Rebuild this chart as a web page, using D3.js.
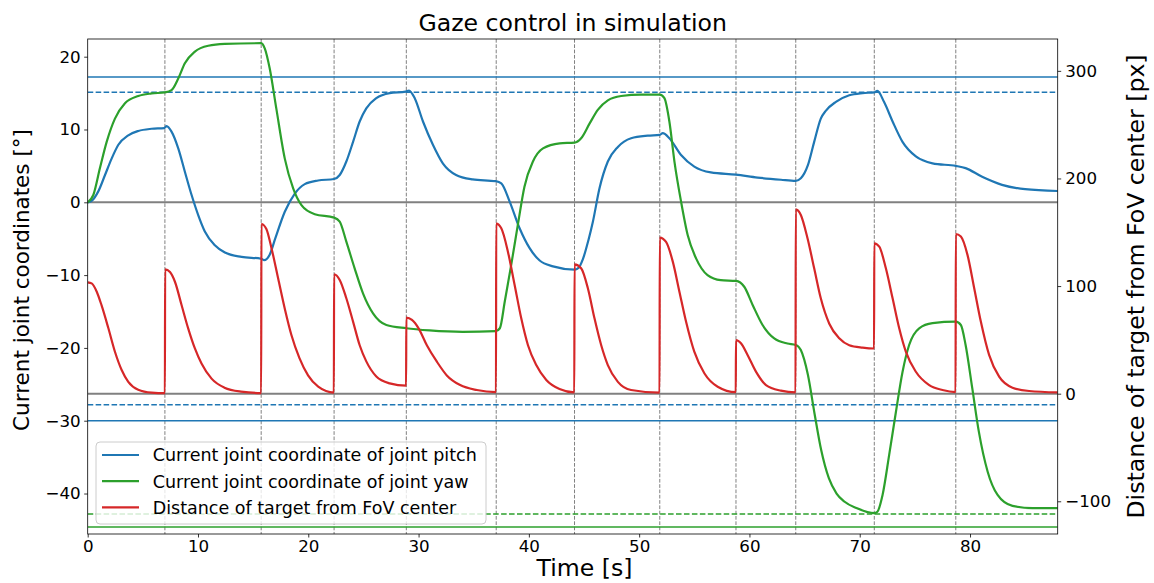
<!DOCTYPE html>
<html>
<head>
<meta charset="utf-8">
<script src="https://cdn.jsdelivr.net/npm/d3@7"></script>
<style>
  body { margin: 0; background: #fff; }
  svg text { font-family: "DejaVu Sans", sans-serif; fill: #000; }
</style>
</head>
<body>
<div id="vis"></div>
<script>
// values
const xTicks = [0, 10, 20, 30, 40, 50, 60, 70, 80];
const leftTicks = [-40, -30, -20, -10, 0, 10, 20];
const rightTicks = [-100, 0, 100, 200, 300];

// times where a new target shows up (vertical dashed lines)
const targetTimes = [7.0, 15.73, 22.34, 28.89, 37.04, 44.14, 51.87, 58.78, 64.2, 71.32, 78.71];

// joint limits [deg]
const pitchLimits = [17.2, -30.0];
const pitchSoftLimits = [15.1, -27.8];
const yawLimits = [-44.6];
const yawSoftLimits = [-42.8];

// [time s, pitch deg]
const pitchPoints = [[0,0],[0.36,0.2],[0.96,1.5],[1.57,3.75],[2.17,6.0],[2.78,7.9],[3.68,9.2],[4.59,9.8],[5.8,10.1],[6.94,10.2],[7.15,10.45],[7.6,9.7],[8.21,7.4],[8.81,4.2],[9.42,1.0],[10.02,-1.75],[10.62,-4.0],[11.53,-5.9],[12.44,-6.9],[13.95,-7.5],[15.73,-7.75],[16.0,-7.95],[16.5,-7.2],[17.0,-5.0],[17.87,-1.3],[18.78,1.2],[19.68,2.5],[20.89,3.0],[22.34,3.2],[22.85,3.75],[23.45,5.6],[24.06,8.3],[24.66,11.1],[25.26,12.9],[26.17,14.3],[27.38,15.0],[28.83,15.2],[29.13,15.35],[29.65,14.3],[30.4,11.1],[31.3,7.9],[32.2,5.35],[33.4,3.75],[34.9,3.15],[37.0,2.9],[37.5,2.6],[38.26,0.1],[39.17,-3.6],[40.07,-6.3],[40.98,-8.0],[42.19,-8.8],[44.14,-9.25],[44.5,-9.0],[44.9,-7.8],[45.4,-5.2],[45.8,-2.7],[46.4,1.9],[47.16,5.6],[48.07,7.6],[49.27,8.8],[50.78,9.15],[51.87,9.25],[52.14,9.5],[52.74,8.8],[53.8,6.5],[55.0,4.9],[56.5,4.1],[58.78,3.8],[60.74,3.4],[62.86,3.1],[64.2,2.95],[64.66,3.3],[65.3,5.1],[65.87,8.3],[66.47,11.5],[66.94,12.6],[67.84,13.8],[69.05,14.7],[70.26,15.0],[71.32,15.1],[71.6,15.3],[72.2,13.8],[72.98,11.1],[73.88,8.3],[75.09,6.3],[76.6,5.35],[78.71,5.0],[79.6,4.7],[81.1,3.5],[82.9,2.4],[85.0,1.8],[87.95,1.55]];

// [time s, yaw deg]
const yawPoints = [[0,0],[0.51,1.0],[1.11,4.7],[1.72,8.3],[2.47,11.5],[3.38,13.6],[4.59,14.6],[5.8,14.95],[7.0,15.1],[7.6,15.4],[8.21,17.0],[8.81,19.1],[9.72,20.7],[10.93,21.5],[12.43,21.75],[15.73,21.85],[16.06,21.1],[16.5,18.4],[17.1,12.9],[17.87,6.0],[18.63,1.9],[19.38,-0.4],[20.59,-1.65],[22.34,-2.1],[22.85,-2.65],[23.45,-5.4],[24.21,-9.1],[24.96,-12.5],[25.87,-15.25],[27.08,-16.85],[28.89,-17.3],[31.0,-17.6],[34.0,-17.8],[37.0,-17.7],[37.37,-17.3],[37.82,-13.6],[38.4,-8.6],[39.0,-3.1],[39.6,2.15],[40.37,5.6],[41.28,7.4],[42.79,8.1],[44.14,8.2],[44.74,8.8],[45.5,10.8],[46.25,12.7],[47.16,14.0],[48.37,14.6],[50.18,14.8],[51.87,14.8],[52.29,14.3],[52.74,11.1],[53.2,5.6],[53.8,0.1],[54.4,-4.5],[55.16,-7.7],[56.2,-10.0],[57.4,-10.7],[58.78,-10.8],[59.53,-11.6],[60.29,-14.1],[61.19,-16.85],[62.25,-18.7],[63.45,-19.4],[64.2,-19.6],[64.66,-20.3],[65.3,-23.7],[65.9,-29.0],[66.5,-34.0],[67.2,-37.9],[67.9,-40.0],[68.6,-41.1],[69.7,-42.0],[71.32,-42.7],[71.6,-42.5],[72.07,-40.2],[72.67,-34.7],[73.28,-28.8],[73.88,-23.3],[74.48,-19.6],[75.39,-17.3],[76.6,-16.6],[78.71,-16.4],[79.17,-16.85],[79.6,-19.6],[80.2,-25.5],[80.8,-31.5],[81.6,-37.0],[82.5,-40.2],[83.85,-41.7],[85.66,-42.0],[87.95,-42.0]];

// [time s, distance px]
const distPoints = [[0,103.5],[0.36,102.5],[0.81,95],[1.26,82],[1.87,61],[2.47,39],[3.08,22],[3.68,11],[4.58,3.7],[5.8,1.0],[7.0,0.5],
  [7.02,115.6],[7.46,113],[7.91,104],[8.51,82.4],[9.11,60.7],[9.72,42],[10.32,28],[11.23,14],[12.4,5.6],[13.9,1.9],[15.73,0.6],
  [15.75,157.7],[16.2,153],[16.67,135],[17.27,107],[17.87,79],[18.47,54.5],[19.2,33],[19.98,17],[20.9,6.5],[22.32,1],
  [22.34,111],[22.85,105.7],[23.45,88.7],[24.06,67],[24.66,45],[25.26,30],[26.17,16],[27.38,9.6],[28.87,7.4],
  [28.89,70.6],[29.4,68.5],[30.0,60.7],[30.75,45],[31.66,29.7],[32.56,17],[33.77,8],[35.28,3.4],[37.02,1.5],
  [37.04,158],[37.5,153.7],[38.1,132],[38.71,101],[39.31,70],[39.92,45],[40.67,26.6],[41.58,12.7],[42.78,4.3],[44.12,1.2],
  [44.14,120.2],[44.74,116.5],[45.35,98],[45.95,70],[46.56,45],[47.16,26.6],[48.07,11],[49.27,3.4],[51.85,1],
  [51.87,145],[52.44,141],[53.05,122.7],[53.65,94.8],[54.25,67],[55.0,39],[55.91,19],[57.12,6.5],[58.76,1.5],
  [58.78,49.9],[59.23,46.8],[59.83,36],[60.59,20.5],[61.5,8],[62.85,2.8],[64.18,1.2],
  [64.2,171.3],[64.66,166],[65.26,144.6],[65.87,116.5],[66.47,88.6],[67.24,65],[68.14,51.4],[69.05,45],[70.26,42.8],[71.3,42],
  [71.32,139.7],[71.77,136.6],[72.37,116.5],[72.98,88.6],[73.58,60.7],[74.18,39],[75.09,20.4],[76.3,8],[77.5,3.4],[78.69,1.5],
  [78.71,148.4],[79.17,146],[79.77,129],[80.38,98],[80.98,67],[81.73,36],[82.64,15.8],[83.85,5.6],[85.36,2.5],[87.95,1.2]];

const legendLabels = ["Current joint coordinate of joint pitch", "Current joint coordinate of joint yaw", "Distance of target from FoV center"];

const blue = "#1f77b4", green = "#2ca02c", red = "#d62728", gray = "#808080";

const width = 1154, height = 583;
const plotL = 87.7, plotR = 1057.7, plotT = 39, plotB = 534;

const svg = d3.select("#vis").append("svg")
  .attr("width", width)
  .attr("height", height);

svg.append("rect").attr("width", width).attr("height", height).attr("fill", "#fff");

const x = d3.scaleLinear().domain([0, 87.95]).range([plotL, plotR]);
const yL = d3.scaleLinear().domain([-45.56, 22.43]).range([plotB, plotT]);
const yR = d3.scaleLinear().domain([-130.4, 329.6]).range([plotB, plotT]);

svg.append("clipPath").attr("id", "plot")
  .append("rect").attr("x", plotL).attr("y", plotT).attr("width", plotR - plotL).attr("height", plotB - plotT);

const plot = svg.append("g").attr("clip-path", "url(#plot)");

// dashed target markers
plot.selectAll("line.mark")
  .data(targetTimes)
  .join("line")
    .attr("class", "mark")
    .attr("x1", d => x(d)).attr("x2", d => x(d))
    .attr("y1", plotT).attr("y2", plotB)
    .attr("stroke", gray)
    .attr("stroke-width", 1)
    .attr("stroke-dasharray", "3.7,1.6");

function hline(scale, v, color, dashed, w) {
  plot.append("line")
    .attr("x1", plotL).attr("x2", plotR)
    .attr("y1", scale(v)).attr("y2", scale(v))
    .attr("stroke", color)
    .attr("stroke-width", w)
    .attr("stroke-dasharray", dashed ? "5.55,2.4" : null);
}

hline(yL, 0, gray, false, 2);
hline(yR, 0, gray, false, 2);
pitchLimits.forEach(v => hline(yL, v, blue, false, 1.5));
pitchSoftLimits.forEach(v => hline(yL, v, blue, true, 1.5));
yawLimits.forEach(v => hline(yL, v, green, false, 1.5));
yawSoftLimits.forEach(v => hline(yL, v, green, true, 1.5));

const lineL = d3.line().x(d => x(d[0])).y(d => yL(d[1])).curve(d3.curveMonotoneX);
const lineR = d3.line().x(d => x(d[0])).y(d => yR(d[1])).curve(d3.curveMonotoneX);

plot.append("path").datum(pitchPoints).attr("d", lineL)
  .attr("fill", "none").attr("stroke", blue).attr("stroke-width", 2.2);
plot.append("path").datum(yawPoints).attr("d", lineL)
  .attr("fill", "none").attr("stroke", green).attr("stroke-width", 2.2);
plot.append("path").datum(distPoints).attr("d", lineR)
  .attr("fill", "none").attr("stroke", red).attr("stroke-width", 2.2);

// axes
const fmt = d3.format("d");
const tickFont = "16.7px";
const minus = d => d < 0 ? "\u2212" + Math.abs(d) : d;

const gx = svg.append("g").attr("transform", `translate(0,${plotB})`)
  .call(d3.axisBottom(x).tickValues(xTicks).tickFormat(fmt).tickSize(3.5).tickPadding(2.2));
const gl = svg.append("g").attr("transform", `translate(${plotL},0)`)
  .call(d3.axisLeft(yL).tickValues(leftTicks).tickFormat(minus).tickSize(3.5).tickPadding(3.5));
const gr = svg.append("g").attr("transform", `translate(${plotR},0)`)
  .call(d3.axisRight(yR).tickValues(rightTicks).tickFormat(minus).tickSize(3.5).tickPadding(4));

[gx, gl, gr].forEach(g => {
  g.select(".domain").remove();
  g.selectAll(".tick line").attr("stroke", "#000").attr("stroke-width", 0.8);
  g.selectAll(".tick text").style("font-size", tickFont).attr("font-family", "DejaVu Sans");
});

// frame
svg.append("rect")
  .attr("x", plotL).attr("y", plotT)
  .attr("width", plotR - plotL).attr("height", plotB - plotT)
  .attr("fill", "none").attr("stroke", "#000").attr("stroke-width", 0.8);

// legend
const lg = svg.append("g");
lg.append("rect")
  .attr("x", 96).attr("y", 442).attr("width", 390).attr("height", 82)
  .attr("rx", 4)
  .attr("fill", "#fff").attr("fill-opacity", 0.8)
  .attr("stroke", "#cccccc").attr("stroke-width", 1);

const legendColors = [blue, green, red];
legendLabels.forEach((t, i) => {
  const yy = 455 + i * 26.2;
  lg.append("line")
    .attr("x1", 102).attr("x2", 139)
    .attr("y1", yy).attr("y2", yy)
    .attr("stroke", legendColors[i]).attr("stroke-width", 2.2);
  lg.append("text")
    .attr("x", 152.7).attr("y", yy + 6.3)
    .style("font-size", "17.5px")
    .text(t);
});

// titles
svg.append("text")
  .attr("x", (plotL + plotR) / 2).attr("y", 31)
  .attr("text-anchor", "middle")
  .style("font-size", "23.6px")
  .text("Gaze control in simulation");

svg.append("text")
  .attr("x", 584.5).attr("y", 575.5)
  .attr("text-anchor", "middle")
  .style("font-size", "23.6px")
  .text("Time [s]");

svg.append("text")
  .attr("transform", "translate(28.5,280) rotate(-90)")
  .attr("text-anchor", "middle")
  .style("font-size", "21.5px")
  .text("Current joint coordinates [°]");

svg.append("text")
  .attr("transform", `translate(1144,${(plotT + plotB) / 2}) rotate(-90)`)
  .attr("text-anchor", "middle")
  .style("font-size", "23.6px")
  .text("Distance of target from FoV center [px]");
</script>
</body>
</html>
